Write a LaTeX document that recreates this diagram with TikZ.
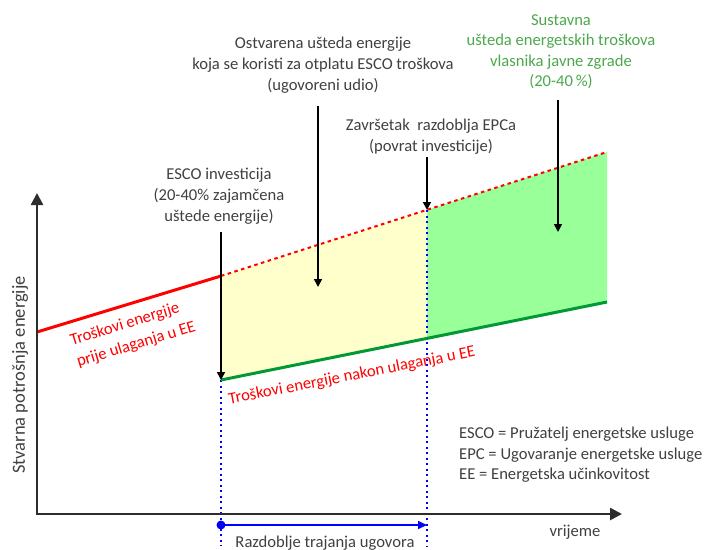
\documentclass[tikz,border=0pt]{standalone}
\usepackage{fontspec}
\setmainfont{Carlito}
\usetikzlibrary{arrows.meta}
\definecolor{txtgray}{RGB}{64,64,64}
\definecolor{fillyellow}{RGB}{255,255,204}
\definecolor{fillgreen}{RGB}{153,255,153}
\definecolor{linegreen}{RGB}{0,153,51}
\definecolor{textgreen}{RGB}{76,168,76}
\definecolor{axisgray}{RGB}{45,45,45}
\begin{document}
\begin{tikzpicture}[x=1pt,y=-1pt,
  lbl/.style={font=\fontsize{16.6}{21}\selectfont, text=txtgray, align=center, inner sep=0pt},
  greenlbl/.style={lbl, text=textgreen, font=\fontsize{16.6}{20.5}\selectfont},
  leglbl/.style={font=\fontsize{16.6}{20.5}\selectfont, text=txtgray, align=left, inner sep=0pt},
  redlbl/.style={font=\fontsize{16.6}{22.5}\selectfont, text=red, align=left, inner sep=0pt},
  blk/.style={black, line width=1.6pt, -{Triangle[length=8pt,width=8pt]}},
  axis/.style={axisgray, line width=2.5pt},
  bluedot/.style={blue, line width=2pt, dash pattern=on 2pt off 3.5pt},
]
\useasboundingbox (0,0) rectangle (708,549);
% key points
\coordinate (o) at (37,514);
\coordinate (ytop) at (37,193);
\coordinate (xend) at (622,514);
\coordinate (r0) at (37,332);
\coordinate (r1) at (221,276);
\coordinate (r2) at (427,210);
\coordinate (r3) at (607,152);
\coordinate (g1) at (221,380);
\coordinate (g2) at (427,338);
\coordinate (g3) at (607,302);
\coordinate (b1) at (221,546);
\coordinate (b2) at (427,546);
\coordinate (p1) at (221,525);
\coordinate (p2) at (427,525);
% fills
\fill[fillyellow] (r1) -- (r2) -- (g2) -- (g1) -- cycle;
\fill[fillgreen] (r2) -- (r3) -- (g3) -- (g2) -- cycle;
% blue dotted
\draw[bluedot] (g1) -- (b1);
\draw[bluedot] (r2) -- (b2);
% lines
\draw[red, line width=3pt] (r0) -- (r1);
\draw[red, line width=2pt, dash pattern=on 3.5pt off 3.5pt] (r1) -- (r3);
\draw[linegreen, line width=3pt] (g1) -- (g3);
% axes
\draw[axis, {Triangle[length=12pt,width=12pt]}-{Triangle[length=12pt,width=12pt]}] (ytop) -- (o) -- (xend);
% texts
\node[lbl] (ost) at (323,65) {Ostvarena ušteda energije\\koja se koristi za otplatu ESCO troškova\\(ugovoreni udio)};
\node[lbl] (zav) at (431,137) {Završetak~ razdoblja EPCa\\(povrat investicije)};
\node[lbl] (esco) at (219,196) {ESCO investicija\\(20-40\% zajamčena\\uštede energije)};
\node[greenlbl] (sus) at (561,52) {Sustavna\\ušteda energetskih troškova\\vlasnika javne zgrade\\(20-40\,\%)};
\node[leglbl, anchor=west] (leg) at (459,455) {ESCO = Pružatelj energetske usluge\\EPC = Ugovaranje energetske usluge\\EE = Energetska učinkovitost};
\node[leglbl] (vr) at (575,532) {vrijeme};
\node[lbl, anchor=north] (raz) at (325,536) {Razdoblje trajanja ugovora};
\node[lbl, rotate=90, font=\fontsize{18.5}{22}\selectfont] (ylab) at (20,375) {Stvarna potrošnja energije};
\node[redlbl, rotate=17] (tr1) at (133,334) {Troškovi energije\\prije ulaganja u EE};
\node[redlbl, rotate=11] (tr2) at (352,376) {Troškovi energije nakon ulaganja u EE};
% black arrows
\coordinate (a1) at (221,232);
\coordinate (a2s) at (318,106);
\coordinate (a2e) at (318,287);
\coordinate (a3s) at (427,157);
\coordinate (a4s) at (558,100);
\coordinate (a4e) at (558,232);
\draw[blk] (a1) -- (g1);
\draw[blk] (a2s) -- (a2e);
\draw[blk] (a3s) -- (r2);
\draw[blk] (a4s) -- (a4e);
% contract period arrow
\fill[blue] (p1) circle (4.5);
\draw[blue, line width=1.6pt, -{Triangle[length=9pt,width=8pt]}] (p1) -- (p2);
\end{tikzpicture}
\end{document}
